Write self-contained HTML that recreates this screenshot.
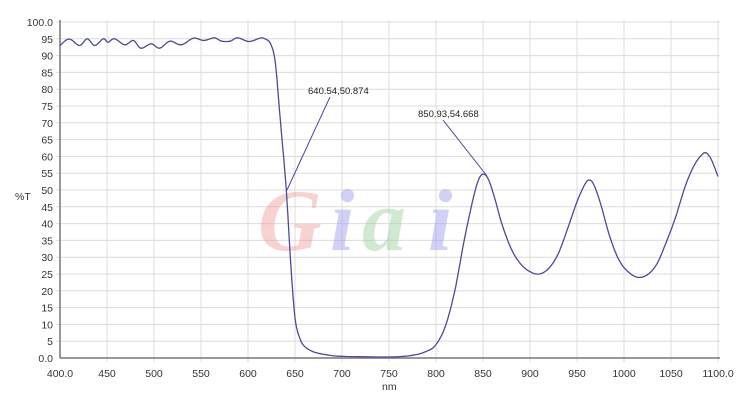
<!DOCTYPE html>
<html><head><meta charset="utf-8"><style>
body{margin:0;background:#fff;}
svg{display:block;font-family:"Liberation Sans",sans-serif;}
</style></head><body>
<svg id="s" width="748" height="406" xmlns="http://www.w3.org/2000/svg">
<g id="grid" stroke="#dcdcdc" stroke-width="1"></g>
<g id="wm" font-family="Liberation Serif,serif" font-style="italic" font-weight="bold" font-size="88" opacity="0.45">
<text x="258" y="250" fill="#f09a9a">G</text>
<text x="330" y="250" fill="#9a9af0">i</text>
<text x="362" y="250" fill="#9ad09a">a</text>
<text x="428" y="250" fill="#9a9af0">i</text>
</g>
<g id="axes" stroke="#777" stroke-width="1.5"><line x1="60" y1="20" x2="60" y2="358"/><line x1="60" y1="358" x2="720" y2="358"/></g>
<g id="lab" font-size="10.5" fill="#333"></g>
<text x="382" y="390" font-size="10.5" fill="#333">nm</text>
<text x="15" y="200" font-size="10.5" fill="#333">%T</text>
<path id="c" fill="none" stroke="#4a4a9a" stroke-width="1.3"/>
<line x1="287" y1="190" x2="330" y2="97" stroke="#4a4a9a" stroke-width="1"/>
<line x1="443" y1="120" x2="487" y2="176" stroke="#4a4a9a" stroke-width="1"/>
<text x="308" y="94" font-size="9.5" fill="#222">640.54,50.874</text>
<text x="418" y="117" font-size="9.5" fill="#222">850.93,54.668</text>
</svg>
<script>
const X=n=>60+(n-400)*0.94, Y=v=>358-v*3.36;
const g=document.getElementById('grid'),l=document.getElementById('lab');
let h='',t='';
for(let n=400;n<=1100;n+=50){const x=X(n);if(n>400)h+=`<line x1="${x}" y1="20" x2="${x}" y2="362"/>`;
t+=`<text x="${x}" y="377" text-anchor="middle">${n==400?'400.0':n==1100?'1100.0':n}</text>`;}
for(let v=0;v<=100;v+=5){const y=Y(v);if(v>0)h+=`<line x1="56" y1="${y}" x2="720" y2="${y}"/>`;
t+=`<text x="53" y="${y+4}" text-anchor="end">${v==0?'0.0':v==100?'100.0':v}</text>`;}
g.innerHTML=h;l.innerHTML=t;
const d=[[400,93],[407,94.7],[412,94.7],[421,93],[429,95],[437,93],[446,95],[451,94],[458,95],[469,93.2],[478,94.5],[486,92.2],[497,93.5],[506,92.2],[517,94.3],[529,93.2],[542,95.2],[553,94.5],[564,95.3],[572,94.3],[581,94.3],[589,95.3],[601,94.2],[613,95.2],[618,95],[624,93.5],[629,88],[634,72],[640.5,50.9],[645,30],[650,12],[655,6],[660,3.5],[670,1.8],[685,0.9],[700,0.5],[750,0.3],[775,0.8],[790,2],[800,4],[810,9.5],[820,20],[830,35],[840,48],[846,53.5],[851,54.7],[856,53],[862,48],[870,40],[880,32.5],[890,28],[900,25.7],[910,25],[920,26.7],[930,31],[940,38.5],[950,46.5],[958,51.5],[963,53],[968,51.5],[975,46],[985,36],[995,29],[1005,25.5],[1015,24],[1025,24.8],[1035,28],[1045,34.5],[1055,42],[1065,51],[1075,57.5],[1085,61],[1091,60],[1096,57],[1100,54]];
let p='';
for(let i=0;i<d.length-1;i++){const p0=d[Math.max(0,i-1)],p1=d[i],p2=d[i+1],p3=d[Math.min(d.length-1,i+2)];
for(let k=0;k<8;k++){const s=k/8;const f=(a,b,c,e)=>0.5*(2*b+(-a+c)*s+(2*a-5*b+4*c-e)*s*s+(-a+3*b-3*c+e)*s*s*s);
const n=f(p0[0],p1[0],p2[0],p3[0]),v=f(p0[1],p1[1],p2[1],p3[1]);p+=(p?'L':'M')+X(n).toFixed(1)+' '+Y(v).toFixed(1);}}
p+='L'+X(1100)+' '+Y(54);
document.getElementById('c').setAttribute('d',p);
</script>
</body></html>
